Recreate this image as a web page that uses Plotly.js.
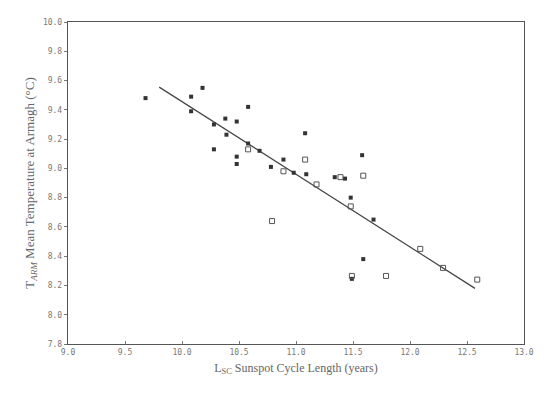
<!DOCTYPE html>
<html>
<head>
<meta charset="utf-8">
<script src="https://cdn.plot.ly/plotly-3.0.1.min.js"></script>
<style>html,body{margin:0;padding:0;background:#fff;}#chart{width:547px;height:398px;}</style>
</head>
<body>
<div id="chart"></div>
<script>
// Filled squares
const filledCycle = [9.68, 10.08, 10.08, 10.18, 10.28, 10.28, 10.38, 10.39, 10.48, 10.48, 10.48, 10.58, 10.58, 10.68, 10.78, 10.89, 10.98, 11.08, 11.09, 11.34, 11.43, 11.48, 11.49, 11.58, 11.59, 11.68];
const filledTemp  = [9.48, 9.49, 9.39, 9.55, 9.30, 9.13, 9.34, 9.23, 9.32, 9.08, 9.03, 9.42, 9.17, 9.12, 9.01, 9.06, 8.97, 9.24, 8.96, 8.94, 8.93, 8.80, 8.245, 9.09, 8.38, 8.65];
// Open squares
const openCycle = [10.58, 10.79, 10.89, 11.08, 11.18, 11.39, 11.48, 11.49, 11.59, 11.79, 12.09, 12.29, 12.59];
const openTemp  = [9.13, 8.64, 8.98, 9.06, 8.89, 8.94, 8.74, 8.265, 8.95, 8.265, 8.45, 8.32, 8.24];
// Fitted regression line endpoints
const fitCycle = [9.80, 12.57];
const fitTemp  = [9.555, 8.18];
// Tick values
const xTicks = [9.0, 9.5, 10.0, 10.5, 11.0, 11.5, 12.0, 12.5, 13.0];
const yTicks = [7.8, 8.0, 8.2, 8.4, 8.6, 8.8, 9.0, 9.2, 9.4, 9.6, 9.8, 10.0];

const traces = [
  {x: fitCycle, y: fitTemp, mode: 'lines', line: {color: '#444', width: 1.2}, hoverinfo: 'skip'},
  {x: filledCycle, y: filledTemp, mode: 'markers', marker: {symbol: 'square', size: 4, color: '#333'}},
  {x: openCycle, y: openTemp, mode: 'markers', marker: {symbol: 'square-open', size: 5, color: '#555', line: {width: 1}}}
];

const tickFont = {family: 'DejaVu Sans Mono, monospace', size: 8, color: '#777'};
const layout = {
  width: 547, height: 398,
  margin: {l: 68, r: 23, t: 22, b: 54},
  paper_bgcolor: '#fff', plot_bgcolor: '#fff',
  showlegend: false,
  xaxis: {
    range: [9.0, 13.0], tickvals: xTicks, ticktext: xTicks.map(v => v.toFixed(1)),
    ticks: 'inside', ticklen: 3, tickcolor: '#777',
    showline: true, linecolor: '#555', linewidth: 1.2, mirror: true,
    showgrid: false, zeroline: false, tickfont: tickFont,
    title: {text: 'L<sub>SC</sub> Sunspot Cycle Length (years)', font: {family: 'Liberation Serif, serif', size: 12, color: '#666'}, standoff: 7}
  },
  yaxis: {
    range: [7.8, 10.0], tickvals: yTicks, ticktext: yTicks.map(v => v.toFixed(1)),
    ticks: 'outside', ticklen: 3, tickcolor: '#777',
    showline: true, linecolor: '#555', linewidth: 1.2, mirror: true,
    showgrid: false, zeroline: false, tickfont: tickFont,
    title: {text: 'T<sub><i>ARM</i></sub> Mean Temperature at Armagh (°C)', font: {family: 'Liberation Serif, serif', size: 13, color: '#666'}, standoff: 5}
  }
};

Plotly.newPlot('chart', traces, layout, {displayModeBar: false, staticPlot: true});
</script>
</body>
</html>
